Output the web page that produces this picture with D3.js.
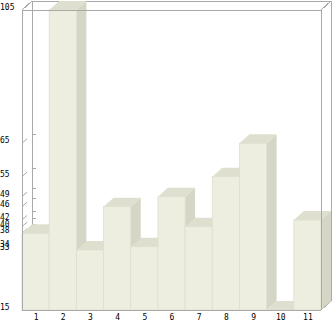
<!DOCTYPE html>
<html>
<head>
<meta charset="utf-8">
<script src="https://cdn.jsdelivr.net/npm/d3@7"></script>
<style>
  body { margin: 0; background: #fff; }
  text { font-family: "DejaVu Sans Mono", monospace; font-size: 8px; fill: #000; }
</style>
</head>
<body>
<div id="viz-container"></div>
<script>
// bar labels and values
const categories = ["1", "2", "3", "4", "5", "6", "7", "8", "9", "10", "11"];
const values = [38, 105, 33, 46, 34, 49, 40, 55, 65, 15, 42];
// the y axis only labels the values that occur
const yTicks = [15, 33, 34, 38, 40, 42, 46, 49, 55, 65, 105];

const width = 333;
const height = 321;
const depthX = 10;   // 3d offset
const depthY = -9;

const frameColor = "#a9a9a9";
const frontColor = "#eeeee0";
const sideColor = "#d6d6c6";
const topColor = "#dfdfd0";

const svg = d3.select("#viz-container")
    .append("svg")
    .attr("width", width)
    .attr("height", height);

const x = d3.scaleBand()
    .domain(categories)
    .range([22, 321])
    .paddingInner(0)
    .paddingOuter(0);

const y = d3.scaleLinear()
    .domain([15, 105])
    .range([310, 10]);

const x0 = x.range()[0], x1 = x.range()[1];
const yTop = y.range()[1], yBot = y.range()[0];

const line = (a, b, c, d) => svg.append("line")
    .attr("x1", a).attr("y1", b).attr("x2", c).attr("y2", d)
    .attr("stroke", frameColor).attr("stroke-width", 1)
    .attr("shape-rendering", "crispEdges");

// back walls
line(x0 + depthX, yTop + depthY, x1 + depthX, yTop + depthY);
line(x0 + depthX, yTop + depthY, x0 + depthX, yBot + depthY);
line(x1 + depthX, yTop + depthY, x1 + depthX, yBot + depthY);
line(x0, yTop, x0 + depthX, yTop + depthY);
line(x1, yTop, x1 + depthX, yTop + depthY);
line(x1, yBot, x1 + depthX, yBot + depthY);

// ticks on the side wall and back wall
const ticks = svg.append("g").attr("class", "ticks");
ticks.selectAll("line.side")
    .data(yTicks.filter(d => d > 15 && d < 105))
    .join("line")
    .attr("class", "side")
    .attr("x1", x0).attr("y1", d => y(d))
    .attr("x2", x0 + depthX / 2).attr("y2", d => y(d) + depthY / 2)
    .attr("stroke", frameColor);
ticks.selectAll("line.back")
    .data(yTicks.filter(d => d > 15 && d < 105))
    .join("line")
    .attr("class", "back")
    .attr("x1", x0 + depthX).attr("y1", d => Math.round(y(d) + depthY) + 0.5)
    .attr("x2", x0 + depthX + 4).attr("y2", d => Math.round(y(d) + depthY) + 0.5)
    .attr("stroke", frameColor);

// bars, drawn left to right so each one hides the side of the previous one
const bars = svg.append("g").attr("class", "bars")
    .selectAll("g")
    .data(categories.map((c, i) => ({ cat: c, value: values[i] })))
    .join("g");

const poly = pts => pts.map(p => p.join(",")).join(" ");

bars.append("polygon")
    .attr("fill", sideColor)
    .attr("points", d => {
        const r = x(d.cat) + x.bandwidth(), t = y(d.value);
        return poly([[r, t], [r + depthX, t + depthY], [r + depthX, yBot + depthY], [r, yBot]]);
    });
bars.append("polygon")
    .attr("fill", topColor)
    .attr("points", d => {
        const l = x(d.cat), r = l + x.bandwidth(), t = y(d.value);
        return poly([[l, t], [r, t], [r + depthX, t + depthY], [l + depthX, t + depthY]]);
    });
bars.append("rect")
    .attr("x", d => x(d.cat))
    .attr("y", d => y(d.value))
    .attr("width", x.bandwidth())
    .attr("height", d => yBot - y(d.value))
    .attr("fill", frontColor)
    .attr("stroke", "#deded0")
    .attr("stroke-width", 0.8);

// front frame
line(x0, yTop, x1, yTop);
line(x0, yTop, x0, yBot);
line(x0, yBot, x1, yBot);
line(x1, yTop, x1, yBot);

// y labels, left aligned at the page edge
svg.append("g")
    .selectAll("text")
    .data(yTicks)
    .join("text")
    .attr("x", 0)
    .attr("y", d => y(d))
    .text(d => d);

// x labels
svg.append("g")
    .selectAll("text")
    .data(categories)
    .join("text")
    .attr("x", d => x(d) + x.bandwidth() / 2 + 0.5)
    .attr("y", 320)
    .attr("text-anchor", "middle")
    .text(d => d);
</script>
</body>
</html>
